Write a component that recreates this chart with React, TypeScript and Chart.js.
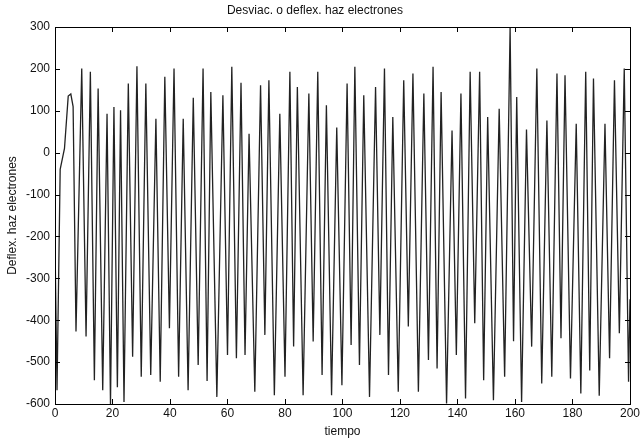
import React, { useEffect, useRef } from "react";
import { Chart, registerables } from "chart.js";

Chart.register(...registerables);

const titleText = "Desviac. o deflex. haz electrones";
const xLabel = "tiempo";
const yLabel = "Deflex. haz electrones";

// peaks of the oscillation (time, value)
const peakT = [5.5, 9.3, 12.3, 15.0, 18.1, 20.5, 22.8, 25.5, 28.5, 31.6, 35.1, 38.2, 41.4, 44.6, 48.1, 51.5, 54.2, 58.4, 61.5, 64.7, 67.5, 71.5, 74.4, 78.2, 81.7, 84.3, 88.3, 91.4, 94.4, 98.0, 101.6, 104.3, 107.4, 111.5, 114.6, 117.5, 121.3, 124.5, 128.3, 131.5, 134.3, 138.1, 141.2, 144.4, 147.7, 150.5, 154.5, 158.3, 160.6, 164.0, 167.6, 171.1, 174.6, 177.4, 181.3, 184.6, 187.3, 191.3, 194.6, 198.0];
const peakV = [140, 201, 193, 153, 93, 109, 101, 165, 206, 165, 81, 181, 201, 81, 131, 201, 145, 137, 205, 167, 45, 161, 173, 93, 193, 157, 141, 193, 113, 60, 165, 205, 137, 157, 201, 85, 173, 189, 141, 205, 145, 53, 141, 193, 193, 85, 105, 298, 133, 55, 201, 77, 189, 185, 69, 193, 177, 69, 173, 201];

// troughs of the oscillation (time, value)
const troughT = [0.7, 7.3, 10.8, 13.7, 16.6, 19.3, 21.7, 24.0, 27.0, 30.0, 33.3, 36.6, 39.8, 43.0, 46.3, 49.8, 52.9, 56.3, 60.0, 63.1, 66.1, 69.5, 73.0, 76.3, 80.0, 83.0, 86.3, 89.8, 92.9, 96.2, 99.8, 103.0, 105.9, 109.4, 113.0, 116.0, 119.4, 122.9, 126.4, 129.9, 132.9, 136.2, 139.6, 142.8, 146.0, 149.1, 152.5, 156.4, 159.5, 162.3, 165.8, 169.3, 172.8, 176.0, 179.3, 182.9, 186.0, 189.3, 192.9, 196.3, 199.5];
const troughV = [-567, -427, -439, -543, -567, -600, -560, -595, -487, -535, -531, -547, -419, -535, -567, -507, -545, -583, -483, -491, -483, -571, -435, -579, -535, -463, -579, -451, -531, -579, -555, -459, -507, -583, -435, -531, -571, -415, -571, -495, -515, -599, -483, -587, -407, -543, -591, -535, -450, -595, -463, -551, -535, -443, -539, -575, -520, -580, -491, -431, -547];

// start, shoulders and end of the trace
const extraT = [0, 1.8, 3.3, 4.6, 6.3, 200];
const extraV = [-215, -40, 10, 135, 110, -350];

const xTicksStep = 20;
const yTicksStep = 100;

const font = { family: "'Liberation Sans', Arial, sans-serif", size: 12, weight: "normal" as const };
const textColor = "#111";

const boxPlugin = {
  id: "matlabBox",
  afterDraw(chart: any) {
    const { ctx, chartArea, scales } = chart;
    const { left, right, top, bottom } = chartArea;
    ctx.save();
    ctx.strokeStyle = "#000";
    ctx.lineWidth = 1;
    ctx.strokeRect(Math.round(left) + 0.5, Math.round(top) + 0.5, Math.round(right - left), Math.round(bottom - top));
    const len = 5;
    ctx.beginPath();
    scales.x.ticks.forEach((t: any) => {
      const px = Math.round(scales.x.getPixelForValue(t.value)) + 0.5;
      ctx.moveTo(px, bottom);
      ctx.lineTo(px, bottom - len);
      ctx.moveTo(px, top);
      ctx.lineTo(px, top + len);
    });
    scales.y.ticks.forEach((t: any) => {
      const py = Math.round(scales.y.getPixelForValue(t.value)) + 0.5;
      ctx.moveTo(left, py);
      ctx.lineTo(left + len, py);
      ctx.moveTo(right, py);
      ctx.lineTo(right - len, py);
    });
    ctx.stroke();
    ctx.restore();
  },
};

export default function App() {
  const ref = useRef<HTMLCanvasElement>(null);
  useEffect(() => {
    if (!ref.current) return;
    const pts: { x: number; y: number }[] = [];
    peakT.forEach((t, i) => pts.push({ x: t, y: peakV[i] }));
    troughT.forEach((t, i) => pts.push({ x: t, y: troughV[i] }));
    extraT.forEach((t, i) => pts.push({ x: t, y: extraV[i] }));
    pts.sort((a, b) => a.x - b.x);

    const chart = new Chart(ref.current, {
      type: "line",
      data: {
        datasets: [
          {
            data: pts,
            borderColor: "#222",
            borderWidth: 1.3,
            pointRadius: 0,
            tension: 0,
            fill: false,
          },
        ],
      },
      options: {
        animation: false,
        responsive: false,
        devicePixelRatio: 1,
        layout: { padding: { left: 0, right: 12, top: 0, bottom: 0 } },
        plugins: {
          legend: { display: false },
          tooltip: { enabled: false },
          title: {
            display: true,
            text: titleText,
            color: textColor,
            font,
            padding: { top: 3, bottom: 9.6 },
          },
        },
        scales: {
          x: {
            type: "linear",
            min: 0,
            max: 200,
            ticks: { stepSize: xTicksStep, color: textColor, font, padding: 2, maxRotation: 0 },
            grid: { display: false, drawTicks: false },
            border: { display: false },
            title: { display: true, text: xLabel, color: textColor, font, padding: { top: 0, bottom: 2 } },
            afterFit: (s: any) => {
              s.height = 37;
            },
          },
          y: {
            type: "linear",
            min: -600,
            max: 300,
            ticks: { stepSize: yTicksStep, color: textColor, font, padding: 5 },
            grid: { display: false, drawTicks: false },
            border: { display: false },
            title: { display: true, text: yLabel, color: textColor, font, padding: { top: 5, bottom: 0 } },
            afterFit: (s: any) => {
              s.width = 55;
            },
          },
        },
      },
      plugins: [boxPlugin],
    });
    return () => chart.destroy();
  }, []);

  return (
    <div style={{ position: "absolute", left: 0, top: 0, width: 642, height: 441, background: "#fff" }}>
      <canvas ref={ref} width={642} height={441} />
    </div>
  );
}
